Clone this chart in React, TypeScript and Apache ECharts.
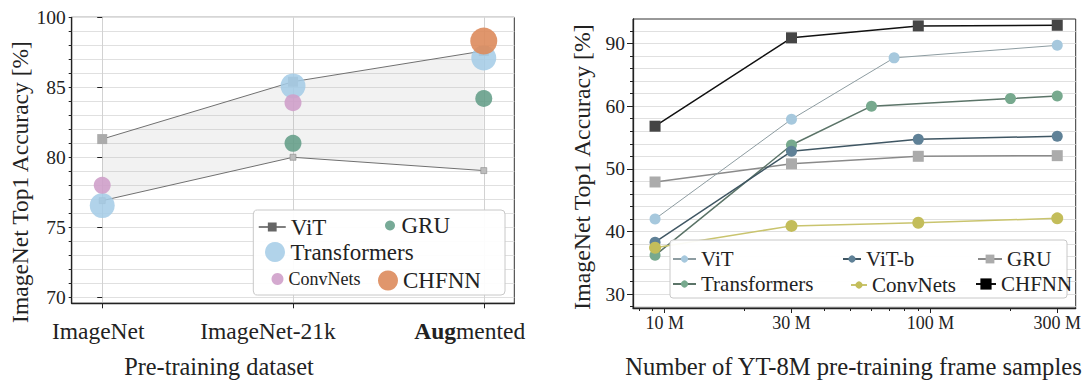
import React, { useEffect, useRef } from 'react';
import * as echarts from 'echarts';

const FONT = '"Liberation Serif", "Times New Roman", serif';
const INK = '#222';

// ---------- Left chart data ----------
const datasets = ['ImageNet', 'ImageNet-21k', 'Augmented'];
const datasetX = [0, 1, 2];
const leftYTickValues = [70, 75, 80, 85, 90];
const leftYTickLabels = ['70', '75', '80', '85', '100'];
const leftYMinorTicks = [70, 71, 72, 73, 74, 75, 76, 77, 78, 79, 80, 81, 82, 83, 84, 85, 86, 87, 88, 89, 90];
const vitUpper = [81.3, 85.4, 87.6];
const vitLower = [76.9, 80.0, 79.05];
const transformersLX = [0, 1, 2];
const transformersLY = [76.55, 85.1, 87.1];
const convnetsLX = [0, 1];
const convnetsLY = [78.0, 83.9];
const gruLX = [1, 2];
const gruLY = [81.0, 84.2];
const chfnnLX = [2];
const chfnnLY = [88.3];

// ---------- Right chart data ----------
const samplesTickValues = [10, 30, 100, 300];
const samplesTickLabels = ['10 M', '30 M', '100 M', '300 M'];
const samplesMinorTicks = [8, 9, 20, 40, 50, 60, 70, 80, 90, 200];
const rightYTickValues = [30, 40, 50, 60, 70];
const rightYTickLabels = ['30', '40', '50', '60', '90'];
const rightYMinorTicks = [28, 30, 32, 34, 36, 38, 40, 42, 44, 46, 48, 50, 52, 54, 56, 58, 60, 62, 64, 66, 68, 70, 72];
const vitRX = [9.2, 30, 73, 300];
const vitRY = [42.0, 57.9, 67.7, 69.7];
const transformersRX = [9.2, 30, 60, 200, 300];
const transformersRY = [36.2, 53.8, 60.0, 61.2, 61.6];
const vitbRX = [9.2, 30, 90, 300];
const vitbRY = [38.3, 52.8, 54.7, 55.2];
const gruRX = [9.2, 30, 90, 300];
const gruRY = [47.9, 50.8, 52.0, 52.1];
const convnetsRX = [9.2, 30, 90, 300];
const convnetsRY = [37.4, 40.9, 41.4, 42.1];
const chfnnRX = [9.2, 30, 90, 300];
const chfnnRY = [56.8, 70.9, 72.8, 72.9];

const zip = (xs: number[], ys: number[]) => xs.map((x, i) => [x, ys[i]]);

const txt = (size: number) => ({ fontSize: size, fontFamily: FONT, color: INK });

function legendItem(name: string, left: number, top: number, w: number, h: number, size: number, extra: any = {}) {
  return {
    data: [{ name, ...extra }],
    left,
    top,
    padding: 0,
    itemWidth: w,
    itemHeight: h,
    selectedMode: false,
    textStyle: { ...txt(size) },
  };
}

function buildLeft() {
  const labelKeys = ['a', 'b', 'c'];
  return {
    animation: false,
    grid: {
      left: 71.7, top: 17.3, width: 442.6, height: 286,
      show: true, borderColor: '#333', borderWidth: 1, backgroundColor: 'transparent',
    },
    xAxis: {
      type: 'value', min: -0.16, max: 2.16,
      axisLine: { show: true, onZero: false, lineStyle: { color: INK, width: 1.3 } },
      axisTick: { show: true, customValues: datasetX, length: 5, lineStyle: { color: INK } },
      axisLabel: {
        customValues: datasetX,
        margin: 16,
        ...txt(23.5),
        formatter: (v: number) => {
          const i = datasetX.indexOf(v);
          const name = datasets[i];
          if (i === 2) return `{c|${name.slice(0, 3)}}{d|${name.slice(3)}}`;
          return `{${labelKeys[i]}|${name}}`;
        },
        rich: {
          a: { ...txt(23.5), padding: [0, 8, 0, 0] },
          b: { ...txt(23.5), padding: [0, 50, 0, 0] },
          c: { ...txt(23.5), fontWeight: 'bold' },
          d: { ...txt(23.5), padding: [0, 28, 0, 0] },
        },
      },
      splitLine: { show: true, lineStyle: { color: '#d2d2d2', width: 1 } },
    },
    yAxis: [
      {
        type: 'value', min: 69.57, max: 90,
        axisLine: { show: true, onZero: false, lineStyle: { color: INK, width: 1.3 } },
        axisTick: { show: true, customValues: leftYMinorTicks, length: 3, lineStyle: { color: INK } },
        axisLabel: {
          customValues: leftYTickValues, margin: 6, ...txt(19.5),
          formatter: (v: number) => leftYTickLabels[leftYTickValues.indexOf(v)],
        },
        splitLine: { show: true, lineStyle: { color: '#e0e0e0', width: 1 } },
      },
      {
        type: 'value', min: 69.57, max: 90, position: 'left',
        axisLine: { show: false },
        axisTick: { show: true, customValues: leftYTickValues, length: 5, lineStyle: { color: INK } },
        axisLabel: { show: false },
        splitLine: { show: false },
      },
    ],
    legend: [
      legendItem('ViT', 258, 215.5, 27, 11, 23, { itemStyle: { color: '#666' }, lineStyle: { color: '#555', width: 1.5 } }),
      legendItem('GRU', 385, 214, 13, 10, 23, { icon: 'circle' }),
      legendItem('Transformers', 265, 240.5, 21, 20, 23, { icon: 'circle' }),
      legendItem('ConvNets', 271.5, 270, 12, 12, 18, { icon: 'circle' }),
      legendItem('CHFNN', 378, 269, 20, 20, 23, { icon: 'circle' }),
    ],
    graphic: [
      {
        type: 'rect', z: 3, silent: true,
        shape: { x: 253.3, y: 210, width: 251.7, height: 85, r: 4 },
        style: { fill: 'rgba(255,255,255,0.92)', stroke: '#c8c8c8', lineWidth: 1 },
      },
      {
        type: 'text', x: 219, y: 366, silent: true,
        style: { text: 'Pre-training dataset', font: `24.3px ${FONT}`, fill: INK, align: 'center', verticalAlign: 'middle' },
      },
      {
        type: 'text', x: 20, y: 182, rotation: Math.PI / 2, silent: true,
        style: { text: 'ImageNet Top1 Accuracy [%]', font: `23.5px ${FONT}`, fill: INK, align: 'center', verticalAlign: 'middle' },
      },
    ],
    series: [
      {
        type: 'custom', name: 'band', silent: true, z: 1,
        data: [[0, 80]],
        renderItem: (_p: any, api: any) => {
          const pts: number[][] = [];
          for (let i = 0; i < datasetX.length; i++) pts.push(api.coord([datasetX[i], vitUpper[i]]));
          for (let i = datasetX.length - 1; i >= 0; i--) pts.push(api.coord([datasetX[i], vitLower[i]]));
          return { type: 'polygon', shape: { points: pts }, style: { fill: 'rgba(175,175,175,0.16)' } };
        },
      },
      {
        type: 'line', name: 'ViT', data: zip(datasetX, vitUpper),
        symbol: 'rect', symbolSize: 10,
        itemStyle: { color: '#ababab' }, lineStyle: { color: '#707070', width: 1 }, z: 2,
      },
      {
        type: 'line', name: 'ViT', data: zip(datasetX, vitLower),
        symbol: 'rect', symbolSize: 6,
        itemStyle: { color: '#bdbdbd', borderColor: '#8a8a8a', borderWidth: 0.6 }, lineStyle: { color: '#707070', width: 1 }, z: 2,
      },
      {
        type: 'scatter', name: 'Transformers', data: zip(transformersLX, transformersLY), symbolSize: 25,
        itemStyle: { color: '#a3cbe6', opacity: 0.85 }, z: 3,
      },
      {
        type: 'scatter', name: 'ConvNets', data: zip(convnetsLX, convnetsLY), symbolSize: 17,
        itemStyle: { color: '#cfa0ca', opacity: 0.9 }, z: 3,
      },
      {
        type: 'scatter', name: 'GRU', data: zip(gruLX, gruLY), symbolSize: 17,
        itemStyle: { color: '#5f9b85', opacity: 0.85 }, z: 3,
      },
      {
        type: 'scatter', name: 'CHFNN', data: zip(chfnnLX, chfnnLY), symbolSize: 27,
        itemStyle: { color: '#dd8b5c', opacity: 0.9 }, z: 3,
      },
    ],
  };
}

function nearestIdx(v: number, arr: number[]) {
  let best = 0;
  for (let i = 1; i < arr.length; i++) {
    if (Math.abs(Math.log(v / arr[i])) < Math.abs(Math.log(v / arr[best]))) best = i;
  }
  return best;
}

function buildRight() {
  const lineSeries = (name: string, xs: number[], ys: number[], symbol: string, size: number, mColor: string, lColor: string, lw: number, z: number) => ({
    type: 'line', name, data: zip(xs, ys), symbol, symbolSize: size,
    itemStyle: { color: mColor }, lineStyle: { color: lColor, width: lw }, z,
  });
  return {
    animation: false,
    grid: {
      left: 85, top: 19, width: 445, height: 289,
      show: true, borderColor: '#333', borderWidth: 1, backgroundColor: 'transparent',
    },
    xAxis: [
      {
        type: 'log', logBase: 10, min: 7.6, max: 352,
        axisLine: { show: true, onZero: false, lineStyle: { color: INK, width: 1.3 } },
        axisTick: { show: true, customValues: samplesTickValues, length: 5, lineStyle: { color: INK } },
        axisLabel: {
          customValues: samplesTickValues, margin: 6, ...txt(18),
          formatter: (v: number) => samplesTickLabels[nearestIdx(v, samplesTickValues)],
        },
        splitLine: { show: false },
      },
      {
        type: 'log', logBase: 10, min: 7.6, max: 352, position: 'bottom',
        axisLine: { show: false },
        axisTick: { show: true, customValues: samplesMinorTicks, length: 3, lineStyle: { color: INK } },
        axisLabel: { show: false },
        splitLine: { show: false },
      },
    ],
    yAxis: [
      {
        type: 'value', min: 27.8, max: 73.9,
        axisLine: { show: true, onZero: false, lineStyle: { color: INK, width: 1.3 } },
        axisTick: { show: true, customValues: rightYMinorTicks, length: 3, lineStyle: { color: INK } },
        axisLabel: {
          customValues: rightYTickValues, margin: 8, ...txt(19.5),
          formatter: (v: number) => rightYTickLabels[rightYTickValues.indexOf(v)],
        },
        splitLine: { show: true, lineStyle: { color: '#e0e0e0', width: 1 } },
      },
      {
        type: 'value', min: 27.8, max: 73.9, position: 'left',
        axisLine: { show: false },
        axisTick: { show: true, customValues: rightYTickValues, length: 6, lineStyle: { color: INK } },
        axisLabel: { show: false },
        splitLine: { show: false },
      },
    ],
    legend: [
      legendItem('ViT', 124, 248.5, 23, 9, 21),
      legendItem('ViT-b', 294, 248.5, 18, 9, 21),
      legendItem('GRU', 429, 248.5, 24, 11, 21),
      legendItem('Transformers', 124, 273.5, 23, 9, 21),
      legendItem('ConvNets', 302, 274.5, 16, 9, 21),
      legendItem('CHFNN', 427, 273.5, 20, 14, 21, { itemStyle: { color: '#000' } }),
    ],
    graphic: [
      {
        type: 'rect', z: 3, silent: true,
        shape: { x: 122, y: 240, width: 397, height: 58, r: 3 },
        style: { fill: 'rgba(255,255,255,0.94)', stroke: '#c8c8c8', lineWidth: 1 },
      },
      {
        type: 'text', x: 305.5, y: 366, silent: true,
        style: { text: 'Number of YT-8M pre-training frame samples', font: `24.6px ${FONT}`, fill: INK, align: 'center', verticalAlign: 'middle' },
      },
      {
        type: 'text', x: 34, y: 167, rotation: Math.PI / 2, silent: true,
        style: { text: 'ImageNet Top1 Accuracy [%]', font: `23.8px ${FONT}`, fill: INK, align: 'center', verticalAlign: 'middle' },
      },
    ],
    series: [
      lineSeries('GRU', gruRX, gruRY, 'rect', 11, '#ababab', '#8a8a8a', 1.5, 2),
      lineSeries('ViT', vitRX, vitRY, 'circle', 11, '#a6c8dd', '#8d9ca1', 1, 2),
      lineSeries('Transformers', transformersRX, transformersRY, 'circle', 11, '#77a98e', '#5b7468', 1.5, 2),
      lineSeries('ViT-b', vitbRX, vitbRY, 'circle', 11, '#5f8197', '#3f5663', 1.5, 2),
      lineSeries('ConvNets', convnetsRX, convnetsRY, 'circle', 12, '#c3bd5a', '#c9c46e', 1.5, 2),
      lineSeries('CHFNN', chfnnRX, chfnnRY, 'rect', 11, '#454545', '#111', 1.5, 2),
    ],
  };
}

export default function App() {
  const leftRef = useRef<HTMLDivElement>(null);
  const rightRef = useRef<HTMLDivElement>(null);
  useEffect(() => {
    const l = echarts.init(leftRef.current!, undefined, { renderer: 'svg' });
    const r = echarts.init(rightRef.current!, undefined, { renderer: 'svg' });
    l.setOption(buildLeft() as any);
    r.setOption(buildRight() as any);
    return () => {
      l.dispose();
      r.dispose();
    };
  }, []);
  return (
    <div style={{ position: 'absolute', left: 0, top: 0, width: 1084, height: 381, background: '#fff' }}>
      <div ref={leftRef} style={{ position: 'absolute', left: 0, top: 0, width: 548, height: 381 }} />
      <div ref={rightRef} style={{ position: 'absolute', left: 548, top: 0, width: 536, height: 381 }} />
    </div>
  );
}
